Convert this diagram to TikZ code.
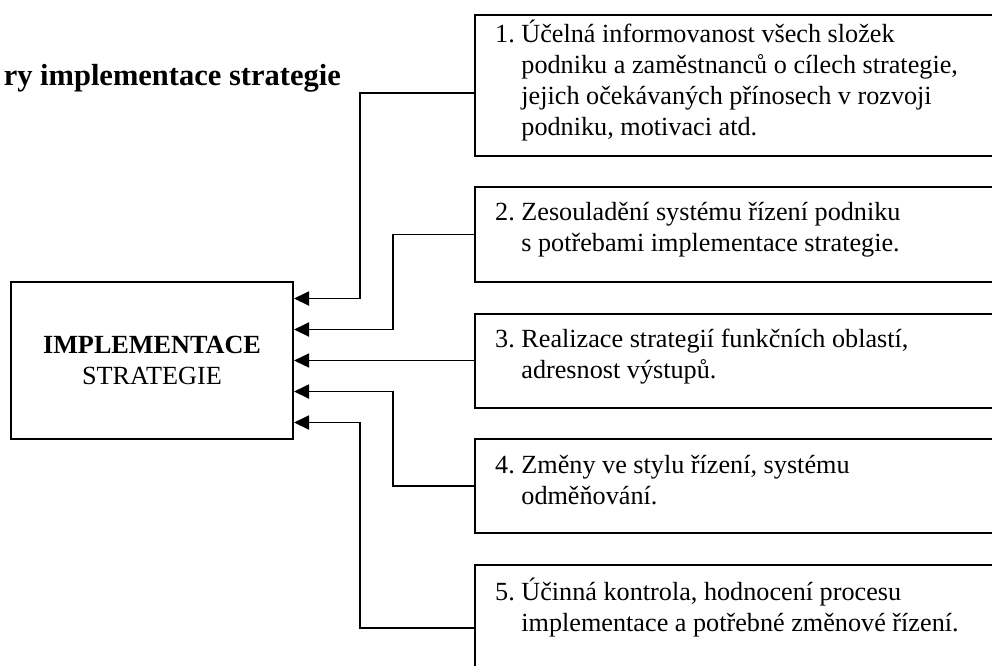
\documentclass[tikz,border=0pt]{standalone}
\usepackage{fontspec}
\setmainfont{Liberation Serif}
\usetikzlibrary{arrows.meta}
\begin{document}
\begin{tikzpicture}[x=1pt,y=-1pt,
  frame/.style={draw, line width=2pt, rectangle, inner sep=0pt, anchor=north west},
  conn/.style={line width=1.9pt, -{Triangle[length=15pt,width=14pt]}},
  bodyfont/.style={font=\fontsize{26.2pt}{31pt}\selectfont},
  itemtext/.style={bodyfont, anchor=base west, inner sep=0pt},
]
\useasboundingbox (0,0) rectangle (992,665);
\clip (0,0) rectangle (992,665);

% heading
\node[anchor=base east, inner sep=0pt, font=\fontsize{30.5pt}{36pt}\selectfont\bfseries]
  (title) at (341,85) {ry implementace strategie};

% central box
\node[frame, bodyfont, minimum width=282pt, minimum height=157pt, align=center]
  (main) at (10,281) {\textbf{IMPLEMENTACE}\\STRATEGIE};

% five factor boxes, running off the right edge
\node[frame, minimum width=540pt, minimum height=141pt] (b1) at (474,14) {};
\node[frame, minimum width=540pt, minimum height=95pt]  (b2) at (474,186) {};
\node[frame, minimum width=540pt, minimum height=94pt]  (b3) at (474,313) {};
\node[frame, minimum width=540pt, minimum height=94pt]  (b4) at (474,438) {};
\node[frame, minimum width=540pt, minimum height=126pt] (b5) at (474,564) {};

\node[itemtext] (t1) at (495,42) {\begin{tabular}[t]{@{}l@{\ }l@{}}
  1. & Účelná informovanost všech složek\\
     & podniku a zaměstnanců o cílech strategie,\\
     & jejich očekávaných přínosech v rozvoji\\
     & podniku, motivaci atd.\end{tabular}};
\node[itemtext] (t2) at (495,220) {\begin{tabular}[t]{@{}l@{\ }l@{}}
  2. & Zesouladění systému řízení podniku\\
     & s potřebami implementace strategie.\end{tabular}};
\node[itemtext] (t3) at (495,347) {\begin{tabular}[t]{@{}l@{\ }l@{}}
  3. & Realizace strategií funkčních oblastí,\\
     & adresnost výstupů.\end{tabular}};
\node[itemtext] (t4) at (495,473) {\begin{tabular}[t]{@{}l@{\ }l@{}}
  4. & Změny ve stylu řízení, systému\\
     & odměňování.\end{tabular}};
\node[itemtext] (t5) at (495,600) {\begin{tabular}[t]{@{}l@{\ }l@{}}
  5. & Účinná kontrola, hodnocení procesu\\
     & implementace a potřebné změnové řízení.\end{tabular}};

% connectors into the central box
\draw[conn] ([yshift=-7.5pt]b1.west) -| ([xshift=66pt,yshift=62pt]main.east) -- ([yshift=62pt]main.east);
\draw[conn] (b2.west) -| ([xshift=99pt,yshift=31pt]main.east) -- ([yshift=31pt]main.east);
\draw[conn, line width=1.3pt] (b3.west |- main.east) -- (main.east);
\draw[conn] (b4.west) -| ([xshift=99pt,yshift=-31pt]main.east) -- ([yshift=-31pt]main.east);
\draw[conn] (b5.west) -| ([xshift=66pt,yshift=-62pt]main.east) -- ([yshift=-62pt]main.east);
\end{tikzpicture}
\end{document}
